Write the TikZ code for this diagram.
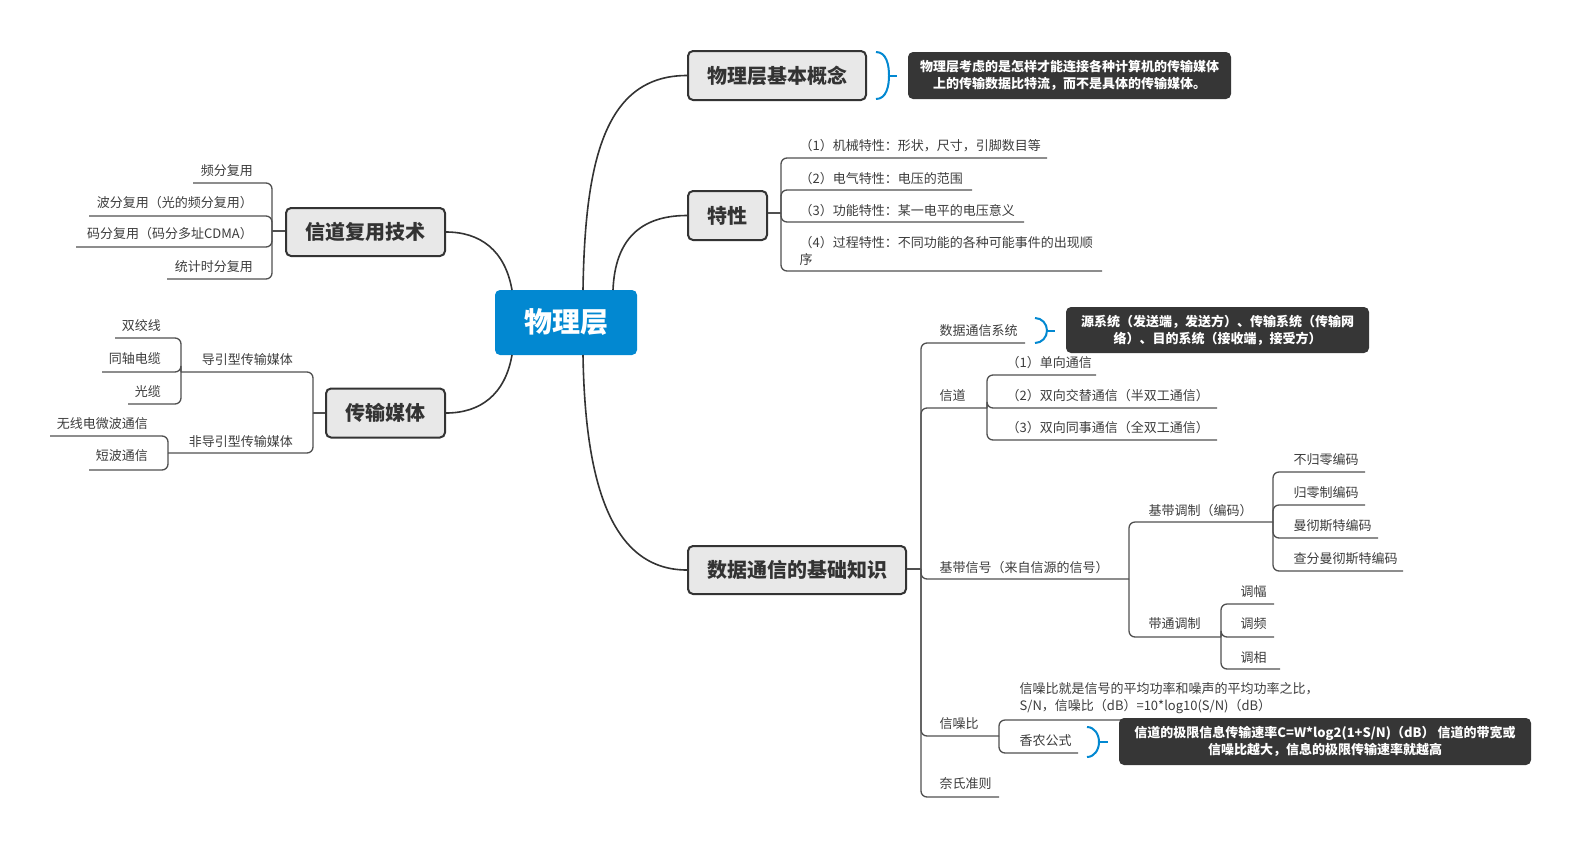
\documentclass[tikz,border=0pt]{standalone}
\usepackage{fontspec}
\setmainfont{Noto Sans CJK SC}
\definecolor{blu}{HTML}{0288D1}
\definecolor{boxfill}{HTML}{E8E8E8}
\definecolor{dk}{HTML}{333333}
\definecolor{lf}{HTML}{3C3C3C}
\definecolor{ln}{HTML}{505050}
\definecolor{cal}{HTML}{363636}
\newcommand\lfR[6]{\node[leaf,anchor=west] (#1) at (#2+2.5,#3+0.5) {#4};\coordinate (#1e) at (#5,#6);}
\newcommand\lfL[6]{\node[leaf,anchor=east] (#1) at (#2,#3+0.5) {#4};\coordinate (#1e) at (#5,#6);}
\tikzset{
  branch/.style={draw=dk, line width=2pt, fill=boxfill, rounded corners=5pt, text=dk,
    font=\fontsize{20}{20}\selectfont\bfseries, inner sep=0pt},
  rootbox/.style={fill=blu, rounded corners=5pt, text=white,
    font=\fontsize{28}{28}\selectfont\bfseries, inner sep=0pt},
  leaf/.style={font=\fontsize{13}{17}\selectfont, text=lf, inner sep=0pt},
  tree/.style={draw=ln, line width=1.3pt, rounded corners=6pt},
  conn/.style={draw=dk, line width=1.6pt},
  brace/.style={draw=blu, line width=2pt},
  callout/.style={fill=cal, rounded corners=5pt, text=white, align=center,
    font=\fontsize{13}{17}\selectfont\bfseries, inner sep=0pt}
}
\begin{document}
\begin{tikzpicture}[x=1pt,y=-1pt]
\useasboundingbox (0,0) rectangle (1582,847);
% main nodes
\node[rootbox, minimum width=142pt, minimum height=65pt] (root) at (566,322.5) {物理层};
\node[branch, minimum width=178pt, minimum height=49pt] (n1) at (777,75.5) {物理层基本概念};
\node[branch, minimum width=79pt, minimum height=49pt] (n2) at (727.5,215.5) {特性};
\node[branch, minimum width=218pt, minimum height=48pt] (n3) at (797,570) {数据通信的基础知识};
\node[branch, minimum width=159pt, minimum height=48pt] (n4) at (365.5,232) {信道复用技术};
\node[branch, minimum width=119pt, minimum height=49pt] (n5) at (385.5,413) {传输媒体};
% root connectors
\coordinate (r1) at (583,290);
\coordinate (r2) at (613,290);
\coordinate (r3) at (583,355);
\coordinate (r4) at (512,290);
\coordinate (r5) at (512,355);
\draw[conn] (r1) .. controls (585,160) and (605,75.5) .. (n1.west);
\draw[conn] (r2) .. controls (615,240) and (640,215.5) .. (n2.west);
\draw[conn] (r3) .. controls (585,480) and (610,570) .. (n3.west);
\draw[conn] (r4) .. controls (505,250) and (480,232) .. (n4.east);
\draw[conn] (r5) .. controls (505,395) and (480,413) .. (n5.east);
% 特性
\coordinate (jT) at (781,213);
\draw[tree] (n2.east|-jT) -- (jT);
\lfR{t1}{797}{145}{（1）机械特性：形状，尺寸，引脚数目等}{1047}{158}
\lfR{t2}{797}{178}{（2）电气特性：电压的范围}{972}{190}
\lfR{t3}{797}{210}{（3）功能特性：某一电平的电压意义}{1024}{222}
\node[leaf,anchor=west,align=left] (t4) at (799.5,251) {（4）过程特性：不同功能的各种可能事件的出现顺\\序};
\coordinate (t4e) at (1102,271);
\foreach \c in {t1e,t2e,t3e,t4e} \draw[tree] (jT) |- (\c);
% 数据通信的基础知识
\coordinate (jD) at (921,569);
\draw[tree] (n3.east|-jD) -- (jD);
\lfR{d1}{937}{330}{数据通信系统}{1025}{343}
\lfR{d2}{937}{395}{信道}{987}{408}
\lfR{d3}{937}{567}{基带信号（来自信源的信号）}{1129}{579}
\lfR{d4}{937}{723}{信噪比}{999}{736}
\lfR{d5}{937}{783}{奈氏准则}{999}{797}
\foreach \c in {d1e,d2e,d3e,d4e,d5e} \draw[tree] (jD) |- (\c);
\lfR{d21}{1004}{362}{（1）单向通信}{1096}{375}
\lfR{d22}{1004}{395}{（2）双向交替通信（半双工通信）}{1217}{408}
\lfR{d23}{1004}{427}{（3）双向同事通信（全双工通信）}{1217}{440}
\foreach \c in {d21e,d22e,d23e} \draw[tree] (d2e) |- (\c);
\lfR{d31}{1146}{510}{基带调制（编码）}{1273}{522}
\lfR{d32}{1146}{623}{带通调制}{1221}{637}
\foreach \c in {d31e,d32e} \draw[tree] (d3e) |- (\c);
\lfR{d311}{1291}{459}{不归零编码}{1365}{472}
\lfR{d312}{1291}{492}{归零制编码}{1365}{505}
\lfR{d313}{1291}{525}{曼彻斯特编码}{1378}{538}
\lfR{d314}{1291}{558}{查分曼彻斯特编码}{1403}{571}
\foreach \c in {d311e,d312e,d313e,d314e} \draw[tree] (d31e) |- (\c);
\lfR{d321}{1238}{591}{调幅}{1274}{604}
\lfR{d322}{1238}{623}{调频}{1274}{637}
\lfR{d323}{1238}{657}{调相}{1280}{669}
\foreach \c in {d321e,d322e,d323e} \draw[tree] (d32e) |- (\c);
\node[leaf,anchor=west,align=left] (d41) at (1019.5,698) {信噪比就是信号的平均功率和噪声的平均功率之比，\\S/N，信噪比（dB）=10*log10(S/N)（dB）};
\coordinate (d41e) at (1310,720);
\lfR{d42}{1017}{740}{香农公式}{1078}{753}
\foreach \c in {d41e,d42e} \draw[tree] (d4e) |- (\c);
% 信道复用技术
\coordinate (jC) at (272,231);
\draw[tree] (n4.west|-jC) -- (jC);
\lfL{l1}{253}{170}{频分复用}{193}{183}
\lfL{l2}{253}{202}{波分复用（光的频分复用）}{89}{216}
\lfL{l3}{253}{233}{码分复用（码分多址CDMA）}{76}{247}
\lfL{l4}{253}{266}{统计时分复用}{167}{279}
\foreach \c in {l1e,l2e,l3e,l4e} \draw[tree] (jC) |- (\c);
% 传输媒体
\coordinate (jM) at (313,413);
\draw[tree] (n5.west|-jM) -- (jM);
\lfL{m1}{293}{359}{导引型传输媒体}{181}{372}
\lfL{m2}{293}{441}{非导引型传输媒体}{168}{453}
\foreach \c in {m1e,m2e} \draw[tree] (jM) |- (\c);
\lfL{m11}{161}{325}{双绞线}{115}{338}
\lfL{m12}{161}{358}{同轴电缆}{102}{372}
\lfL{m13}{161}{391}{光缆}{128}{404}
\foreach \c in {m11e,m12e,m13e} \draw[tree] (m1e) |- (\c);
\lfL{m21}{148}{423}{无线电微波通信}{50}{436}
\lfL{m22}{148}{455}{短波通信}{89}{470}
\foreach \c in {m21e,m22e} \draw[tree] (m2e) |- (\c);
% callouts
\node[callout, minimum width=323pt, minimum height=47pt] (c1) at (1069.5,75.5) {物理层考虑的是怎样才能连接各种计算机的传输媒体\\上的传输数据比特流，而不是具体的传输媒体。};
\node[callout, minimum width=303pt, minimum height=46pt] (c2) at (1217.5,330) {源系统（发送端，发送方）、传输系统（传输网\\络）、目的系统（接收端，接受方）};
\node[callout, minimum width=412pt, minimum height=47pt] (c3) at (1325,741.5) {信道的极限信息传输速率C=W*log2(1+S/N)（dB） 信道的带宽或\\信噪比越大，信息的极限传输速率就越高};
% braces
\coordinate (b1a) at (876,52); \coordinate (b1m) at (889,75.5); \coordinate (b1b) at (876,99); \coordinate (b1t) at (897,75.5);
\coordinate (b2a) at (1035,318); \coordinate (b2m) at (1047,330.5); \coordinate (b2b) at (1035,343); \coordinate (b2t) at (1055,330.5);
\coordinate (b3a) at (1087,727); \coordinate (b3m) at (1099,742); \coordinate (b3b) at (1087,757); \coordinate (b3t) at (1108,742);
\draw[brace] (b1a) to[out=0,in=90] (b1m) to[out=-90,in=0] (b1b);
\draw[brace] (b1m) -- (b1t);
\draw[brace] (b2a) to[out=0,in=90] (b2m) to[out=-90,in=0] (b2b);
\draw[brace] (b2m) -- (b2t);
\draw[brace] (b3a) to[out=0,in=90] (b3m) to[out=-90,in=0] (b3b);
\draw[brace] (b3m) -- (b3t);
\end{tikzpicture}
\end{document}
